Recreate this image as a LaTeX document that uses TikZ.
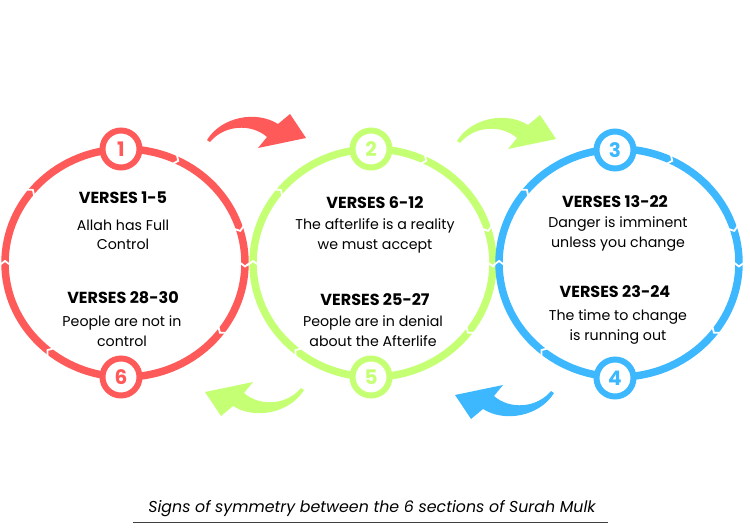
\documentclass[tikz,border=0pt]{standalone}
\usepackage{fontspec}
\setmainfont{Poppins}
\usetikzlibrary{positioning,decorations.markings}
\definecolor{ringred}{HTML}{FF5A5A}
\definecolor{ringgreen}{HTML}{C5FF73}
\definecolor{ringblue}{HTML}{3DB8FF}
\newcommand{\ringnotch}{\draw[white,line width=1.8pt] (-2.5,-6) -- (2,0) -- (-2.5,6);}
\tikzset{
  ring/.style={line width=7.5pt, draw=#1, postaction={decorate},
    decoration={markings,
      mark=at position 0.002 with {\ringnotch},
      mark=at position 0.1 with {\ringnotch},
      mark=at position 0.361 with {\ringnotch},
      mark=at position 0.5 with {\ringnotch},
      mark=at position 0.606 with {\ringnotch},
      mark=at position 0.822 with {\ringnotch},
      mark=at position 0.953 with {\ringnotch}}},
  badge/.style={circle, draw=#1, line width=6pt, fill=white, text=#1,
    minimum size=37pt, inner sep=0pt, font=\bfseries\fontsize{20}{20}\selectfont},
  head/.style={font=\bfseries\fontsize{16}{18}\selectfont},
  body/.style={align=center, font=\fontsize{14.2}{19.5}\selectfont},
  bentarrow/.pic={
    \fill (-49,1) .. controls (-35,-22) and (0,-29) .. (22,-15) -- (34,-25)
      -- (50,-1) -- (2,9) -- (11,-2) .. controls (-5,-16) and (-32,-14) .. (-46,3) -- cycle;
  }
}
\begin{document}
\begin{tikzpicture}[x=1pt,y=-1pt]
  \useasboundingbox (0,0) rectangle (750,530);
  % rings
  \coordinate (c1) at (125,263);
  \coordinate (c2) at (373,263);
  \coordinate (c3) at (619,263);
  \draw[ring=ringred] (c1) ellipse [x radius=120, y radius=114];
  \draw[ring=ringgreen] (c2) ellipse [x radius=120, y radius=114];
  \draw[ring=ringblue] (c3) ellipse [x radius=120, y radius=114];
  % badges
  \node[badge=ringred] (b1) at (121,149) {1};
  \node[badge=ringred] (b6) at (121,377) {6};
  \node[badge=ringgreen] (b2) at (371,149) {2};
  \node[badge=ringgreen] (b5) at (371,377) {5};
  \node[badge=ringblue] (b3) at (615,150) {3};
  \node[badge=ringblue] (b4) at (615,378) {4};
  % texts
  \node[head] (h1) at (123,198) {VERSES 1-5};
  \node[body] (t1) at (123,235) {Allah has Full\\Control};
  \node[head] (h6) at (123,298) {VERSES 28-30};
  \node[body] (t6) at (122,331) {People are not in\\control};
  \node[head] (h2) at (375,203) {VERSES 6-12};
  \node[body] (t2) at (375,236) {The afterlife is a reality\\we must accept};
  \node[head] (h5) at (375,300) {VERSES 25-27};
  \node[body] (t5) at (373,331) {People are in denial\\about the Afterlife};
  \node[head] (h3) at (615,202) {VERSES 13-22};
  \node[body] (t3) at (618,234) {Danger is imminent\\unless you change};
  \node[head] (h4) at (615,292) {VERSES 23-24};
  \node[body] (t4) at (618,327) {The time to change\\is running out};
  % bent arrows
  \pic[color=ringred] at (256,139) {bentarrow};
  \pic[color=ringgreen] at (506,140) {bentarrow};
  \pic[color=ringgreen, rotate=180] at (255,391) {bentarrow};
  \pic[color=ringblue, rotate=180] at (505,394) {bentarrow};
  % caption
  \node[font=\itshape\fontsize{15.8}{18}\selectfont] (cap) at (372,509)
    {Signs of symmetry between the 6 sections of Surah Mulk};
  \draw[black!75, line width=1pt] (133,522) -- (608,522);
\end{tikzpicture}
\end{document}
